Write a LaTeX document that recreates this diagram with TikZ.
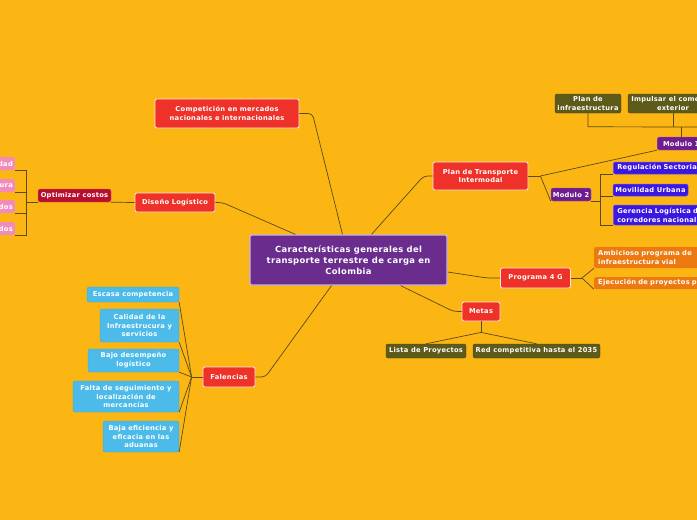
\documentclass[tikz,border=0pt]{standalone}
\usepackage{fontspec}
\usetikzlibrary{calc}
\newfontfamily\mmfont{DejaVu Sans}[LetterSpace=4]
\definecolor{bgc}{HTML}{FBB614}
\definecolor{redc}{HTML}{EE3129}
\definecolor{redb}{HTML}{FFE6E0}
\definecolor{darkredc}{HTML}{B80F2E}
\definecolor{pinkc}{HTML}{F08CBB}
\definecolor{olivec}{HTML}{5D5A1A}
\definecolor{centralc}{HTML}{6A2D8E}
\definecolor{centralb}{HTML}{C7B0E6}
\definecolor{modc}{HTML}{6F1C8E}
\definecolor{bluec}{HTML}{3B17E0}
\definecolor{blueb}{HTML}{6A55F0}
\definecolor{orangec}{HTML}{EC7A10}
\definecolor{lbluec}{HTML}{4DBBEA}
\definecolor{linec}{HTML}{5A4A14}
\tikzset{
  box/.style={rounded corners=2pt, align=center, text=white, inner sep=1pt,
    font=\mmfont\bfseries\fontsize{6.7}{8.8}\selectfont},
  redbox/.style={box, fill=redc, draw=redb, line width=0.8pt},
  cbox/.style={box, fill=centralc, draw=centralb, line width=1.2pt,
    font=\mmfont\bfseries\fontsize{8.4}{10.8}\selectfont},
  darkbox/.style={box, fill=darkredc, draw=darkredc!70!white, line width=0.4pt},
  pinkbox/.style={box, fill=pinkc, anchor=east, text width=30pt, align=right, inner xsep=2pt},
  olivebox/.style={box, fill=olivec, draw=olivec!80!black, line width=0.4pt},
  orangebox/.style={box, fill=orangec, anchor=west, text width=130pt, align=left, inner xsep=4pt},
  bluebox/.style={box, fill=bluec, draw=blueb, line width=0.5pt},
  blueclip/.style={bluebox, anchor=west, text width=120pt, align=left, inner xsep=4pt},
  modbox/.style={box, fill=modc, draw=modc!70!white, line width=0.4pt},
  lbluebox/.style={box, fill=lbluec, draw=lbluec!85!black, line width=0.3pt},
  link/.style={draw=linec, line width=0.7pt},
  elbow/.style={link, rounded corners=4pt},
}
\begin{document}
\begin{tikzpicture}[x=1pt,y=-1pt]
\fill[bgc] (0,0) rectangle (697,520);
\useasboundingbox (0,0) rectangle (697,520);
\clip (0,0) rectangle (697,520);

% central and main branches
\node[cbox, minimum width=197pt, minimum height=50pt] (central) at (348.5,260) {Características generales del\\transporte terrestre de carga en\\Colombia};
\node[redbox, minimum width=144pt, minimum height=29pt] (comp) at (227,113.5) {Competición en mercados\\nacionales e internacionales};
\node[redbox, minimum width=95pt, minimum height=28pt] (plan) at (480.5,176) {Plan de Transporte\\Intermodal};
\node[redbox, minimum width=80pt, minimum height=19pt] (diseno) at (175,202.5) {Diseño Logístico};
\node[redbox, minimum width=52pt, minimum height=20pt] (falencias) at (229,377) {Falencias};
\node[redbox, minimum width=70pt, minimum height=20pt] (programa) at (535.5,278) {Programa 4 G};
\node[redbox, minimum width=38pt, minimum height=19pt] (metas) at (481,311.5) {Metas};

% Diseño logístico branch
\node[darkbox, minimum width=73pt, minimum height=13pt] (optim) at (74.5,195.5) {Optimizar costos};
\node[pinkbox, minimum height=13pt] (p1) at (15,163.5) {dad};
\node[pinkbox, minimum height=13pt] (p2) at (15,185.5) {ura};
\node[pinkbox, minimum height=13pt] (p3) at (15,206.5) {dos};
\node[pinkbox, minimum height=13pt] (p4) at (15,228.5) {dos};

% Metas branch
\node[olivebox, minimum width=80pt, minimum height=14pt] (lista) at (426,351) {Lista de Proyectos};
\node[olivebox, minimum width=127pt, minimum height=14pt] (redcomp) at (536.5,351) {Red competitiva hasta el 2035};

% Programa 4 G branch
\node[orangebox, minimum height=21pt] (ambi) at (594,257.5) {Ambicioso programa de\\infraestructura vial};
\node[orangebox, minimum height=12pt] (ejec) at (594,283) {Ejecución de proyectos p};

% Plan de transporte branch
\node[modbox, minimum width=40pt, minimum height=13pt] (mod2) at (571,194.5) {Modulo 2};
\node[modbox, anchor=west, minimum width=48pt, minimum height=13pt] (mod1) at (657,143.5) {Modulo 1};
\node[blueclip, minimum height=12pt] (regul) at (613,168) {Regulación Sectorial};
\node[bluebox, minimum width=75pt, minimum height=12pt] (movil) at (650.5,190) {Movilidad Urbana};
\node[blueclip, minimum height=20pt] (geren) at (613,215) {Gerencia Logística de\\corredores nacionales};
\node[olivebox, minimum width=66pt, minimum height=19pt] (planinf) at (588,103.5) {Plan de\\infraestructura};
\node[olivebox, minimum width=90pt, minimum height=19pt] (impul) at (673,103.5) {Impulsar el comercio\\exterior};

% Falencias branch
\node[lbluebox, minimum width=92pt, minimum height=15pt] (escasa) at (133,294.5) {Escasa competencia};
\node[lbluebox, minimum width=79pt, minimum height=33pt] (calidad) at (139.5,325.5) {Calidad de la\\Infraestrucura y\\servicios};
\node[lbluebox, minimum width=91pt, minimum height=23pt] (bajo) at (133.5,360.5) {Bajo desempeño\\logístico};
\node[lbluebox, minimum width=106pt, minimum height=31pt] (falta) at (126,396.5) {Falta de seguimiento y\\localización de\\mercancías};
\node[lbluebox, minimum width=76pt, minimum height=31pt] (baja) at (141,436.5) {Baja eficiencia y\\eficacia en las\\aduanas};

% connectors from the central node
\draw[elbow] (comp.east) -- ++(13,0) -- ($(central.north)+(-6,0)$);
\draw[elbow] (plan.west) -- ++(-9,0) -- ($(central.north)+(23,0)$);
\draw[elbow] (diseno.east) -- ++(7,0) -- ($(central.north west)+(46,0)$);
\draw[elbow] (falencias.east) -- ++(10,0) -- ($(central.south)+(-17,0)$);
\draw[elbow] (programa.west) -- ++(-13,0) -- ($(central.east)+(0,12)$);
\draw[elbow] (metas.west) -- ++(-8,0) -- ($(central.south)+(52,0)$);

% Diseño logístico
\draw[link] (diseno.west) -- (optim.south east);
\draw[link] (optim.south west) -- ++(-11,0) coordinate (oj);
\draw[link] (p1.south east) -- (p1.south east -| oj) -- (p4.south east -| oj) -- (p4.south east);
\draw[link] (p2.south east) -- (p2.south east -| oj);
\draw[link] (p3.south east) -- (p3.south east -| oj);

% Metas
\draw[link] (metas.south) -- ++(0,11) coordinate (mj);
\draw[link] (mj) -- (lista.north);
\draw[link] (mj) -- (redcomp.north);

% Programa 4 G
\draw[link] (programa.east) -- ++(11,0) coordinate (pj);
\draw[link] (pj) -- (ambi.south west);
\draw[link] (pj) -- (ejec.south west);

% Plan de transporte
\draw[link] (plan.east) -- ++(12,0) coordinate (pl);
\draw[link] (pl) -- (mod1.south west);
\draw[link] (pl) -- (mod2.south west);
\draw[link] (mod2.south east) -- ++(9,0) coordinate (m2j);
\draw[link] (regul.south west) -- (regul.south west -| m2j) -- (geren.south west -| m2j) -- (geren.south west);
\draw[link] (movil.south west) -- (movil.south west -| m2j);
\draw[link] (mod1.north) -- ++(0,-10) coordinate (m1j);
\coordinate (m1end) at (700,127);
\draw[link] (planinf.south) -- (planinf.south |- m1j) -- (m1end);
\draw[link] (impul.south) -- (impul.south |- m1j);

% Falencias
\draw[link] (falencias.west) -- ++(-11,0) coordinate (fj);
\foreach \n in {escasa,calidad,bajo,falta,baja}
  \draw[link] (fj) -- (\n.south east);
\end{tikzpicture}
\end{document}
